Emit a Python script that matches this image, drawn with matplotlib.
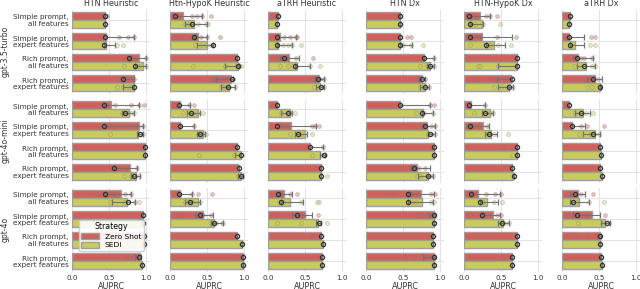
import matplotlib
matplotlib.use("Agg")
import matplotlib.pyplot as plt
from matplotlib.patches import Patch

tasks = ["HTN Heuristic", "Htn-HypoK Heuristic", "aTRH Heuristic",
         "HTN Dx", "HTN-HypoK Dx", "aTRH Dx"]
models = ["gpt-3.5-turbo", "gpt-4o-mini", "gpt-4o"]
prompts = ["Simple prompt,\nall features", "Simple prompt,\nexpert features",
           "Rich prompt,\nall features", "Rich prompt,\nexpert features"]
strategies = ["Zero Shot", "SEDI"]

# values per model -> task -> 8 bars (prompt order, Zero Shot then SEDI)
bar_auprc = [
    [[0.45, 0.44, 0.46, 0.46, 0.90, 0.955, 0.84, 0.84],
     [0.18, 0.32, 0.38, 0.50, 0.90, 0.92, 0.82, 0.79],
     [0.13, 0.12, 0.16, 0.14, 0.28, 0.39, 0.68, 0.70],
     [0.46, 0.46, 0.46, 0.46, 0.78, 0.86, 0.75, 0.80],
     [0.21, 0.24, 0.24, 0.41, 0.71, 0.71, 0.63, 0.61],
     [0.11, 0.10, 0.09, 0.18, 0.21, 0.32, 0.45, 0.51]],
    [[0.53, 0.77, 0.90, 0.89, 0.98, 0.98, 0.78, 0.86],
     [0.14, 0.38, 0.14, 0.45, 0.90, 0.95, 0.92, 0.95],
     [0.12, 0.29, 0.31, 0.50, 0.57, 0.70, 0.72, 0.71],
     [0.46, 0.77, 0.82, 0.84, 0.91, 0.91, 0.69, 0.83],
     [0.10, 0.35, 0.26, 0.36, 0.71, 0.72, 0.64, 0.66],
     [0.095, 0.28, 0.14, 0.45, 0.51, 0.53, 0.51, 0.54]],
    [[0.66, 0.74, 0.955, 0.96, 0.97, 0.975, 0.91, 0.94],
     [0.14, 0.38, 0.44, 0.59, 0.90, 0.97, 0.98, 0.98],
     [0.22, 0.30, 0.50, 0.67, 0.72, 0.74, 0.73, 0.73],
     [0.74, 0.76, 0.91, 0.92, 0.90, 0.90, 0.91, 0.92],
     [0.19, 0.31, 0.39, 0.52, 0.71, 0.71, 0.64, 0.64],
     [0.21, 0.23, 0.41, 0.58, 0.51, 0.51, 0.52, 0.54]],
]

point_auprc = [
    [[0.44, 0.44, 0.44, 0.43, 0.77, 0.85, 0.68, 0.84],
     [0.07, 0.29, 0.32, 0.58, 0.90, 0.92, 0.83, 0.78],
     [0.13, 0.12, 0.12, 0.12, 0.21, 0.37, 0.67, 0.72],
     [0.46, 0.46, 0.46, 0.46, 0.78, 0.86, 0.76, 0.80],
     [0.07, 0.08, 0.08, 0.30, 0.71, 0.71, 0.64, 0.60],
     [0.11, 0.10, 0.10, 0.11, 0.20, 0.29, 0.42, 0.51]],
    [[0.43, 0.72, 0.43, 0.91, 0.98, 0.98, 0.56, 0.84],
     [0.12, 0.28, 0.13, 0.41, 0.90, 0.95, 0.93, 0.95],
     [0.12, 0.27, 0.12, 0.41, 0.57, 0.75, 0.72, 0.72],
     [0.46, 0.76, 0.80, 0.86, 0.91, 0.91, 0.65, 0.84],
     [0.07, 0.28, 0.08, 0.33, 0.71, 0.72, 0.64, 0.67],
     [0.095, 0.25, 0.14, 0.42, 0.51, 0.53, 0.51, 0.54]],
    [[0.44, 0.75, 0.955, 0.96, 0.97, 0.975, 0.90, 0.94],
     [0.12, 0.27, 0.40, 0.59, 0.90, 0.97, 0.98, 0.98],
     [0.14, 0.18, 0.39, 0.68, 0.72, 0.74, 0.73, 0.73],
     [0.57, 0.57, 0.91, 0.92, 0.90, 0.90, 0.91, 0.92],
     [0.09, 0.22, 0.24, 0.51, 0.71, 0.71, 0.64, 0.64],
     [0.17, 0.15, 0.20, 0.60, 0.51, 0.51, 0.52, 0.54]],
]

err_lo = [
    [[0.44, 0.44, 0.44, 0.43, 0.77, 0.85, 0.68, 0.68],
     [0.07, 0.20, 0.32, 0.37, 0.90, 0.74, 0.62, 0.68],
     [0.13, 0.12, 0.12, 0.12, 0.16, 0.37, 0.63, 0.65],
     [0.46, 0.46, 0.46, 0.46, 0.78, 0.82, 0.72, 0.73],
     [0.07, 0.08, 0.08, 0.30, 0.71, 0.46, 0.44, 0.46],
     [0.11, 0.10, 0.10, 0.11, 0.15, 0.20, 0.33, 0.51]],
    [[0.43, 0.67, 0.43, 0.87, 0.98, 0.98, 0.56, 0.80],
     [0.12, 0.23, 0.13, 0.36, 0.90, 0.87, 0.93, 0.92],
     [0.12, 0.18, 0.12, 0.36, 0.57, 0.70, 0.72, 0.72],
     [0.46, 0.76, 0.76, 0.84, 0.91, 0.91, 0.60, 0.70],
     [0.07, 0.24, 0.08, 0.28, 0.71, 0.72, 0.64, 0.67],
     [0.095, 0.17, 0.14, 0.28, 0.51, 0.53, 0.51, 0.54]],
    [[0.44, 0.54, 0.955, 0.96, 0.97, 0.975, 0.85, 0.94],
     [0.12, 0.20, 0.34, 0.55, 0.90, 0.97, 0.98, 0.98],
     [0.14, 0.18, 0.32, 0.64, 0.72, 0.74, 0.73, 0.73],
     [0.57, 0.57, 0.85, 0.92, 0.90, 0.90, 0.77, 0.92],
     [0.09, 0.22, 0.24, 0.46, 0.71, 0.71, 0.64, 0.64],
     [0.11, 0.11, 0.15, 0.53, 0.47, 0.51, 0.52, 0.54]],
]

err_hi = [
    [[0.45, 0.44, 0.83, 0.58, 1.00, 1.00, 0.84, 0.84],
     [0.43, 0.50, 0.50, 0.58, 0.90, 0.93, 0.85, 0.88],
     [0.13, 0.12, 0.38, 0.32, 0.42, 0.57, 0.75, 0.75],
     [0.46, 0.46, 0.46, 0.62, 0.92, 0.92, 0.80, 0.85],
     [0.35, 0.26, 0.64, 0.55, 0.71, 0.71, 0.64, 0.66],
     [0.11, 0.10, 0.29, 0.29, 0.42, 0.44, 0.54, 0.53]],
    [[0.90, 0.83, 0.96, 0.96, 0.98, 0.98, 0.88, 0.92],
     [0.27, 0.41, 0.32, 0.47, 0.90, 0.96, 0.93, 0.98],
     [0.12, 0.32, 0.65, 0.52, 0.74, 0.77, 0.72, 0.72],
     [0.86, 0.90, 0.93, 0.93, 0.91, 0.91, 0.86, 0.90],
     [0.28, 0.39, 0.33, 0.44, 0.71, 0.72, 0.64, 0.67],
     [0.095, 0.38, 0.31, 0.51, 0.51, 0.53, 0.51, 0.54]],
    [[0.80, 0.85, 0.955, 0.96, 0.97, 0.975, 0.93, 0.94],
     [0.29, 0.41, 0.58, 0.72, 0.90, 0.97, 0.98, 0.98],
     [0.32, 0.47, 0.59, 0.72, 0.72, 0.74, 0.73, 0.73],
     [0.92, 0.90, 0.93, 0.92, 0.90, 0.90, 0.93, 0.92],
     [0.49, 0.46, 0.49, 0.60, 0.71, 0.71, 0.64, 0.64],
     [0.31, 0.36, 0.51, 0.64, 0.52, 0.51, 0.52, 0.54]],
]

# individual runs (scattered hollow points)
run_auprc = [
    [[[0.47], [], [0.63, 0.76, 0.84], [0.60, 0.69], [0.77, 1.0], [0.70, 0.90, 1.0], [0.68, 0.84], [0.60, 0.68, 0.75, 0.80]],
     [[0.07, 0.30, 0.36, 0.43, 0.55], [0.20, 0.25, 0.30, 0.38, 0.48, 0.51], [0.08, 0.15, 0.32, 0.42, 0.50, 0.67],
      [0.33, 0.42, 0.48, 0.55, 0.58], [], [0.31, 0.74, 0.90, 0.93, 0.95], [0.58, 0.62, 0.68, 0.75, 0.85], [0.68, 0.72, 0.76, 0.80, 0.88]],
     [[], [], [0.12, 0.22, 0.29, 0.38, 0.39], [0.12, 0.20, 0.27, 0.32, 0.44], [0.12, 0.20, 0.23, 0.38, 0.61],
      [0.16, 0.27, 0.34, 0.57, 0.70], [0.59, 0.65, 0.70, 0.75], [0.62, 0.68, 0.72, 0.75]],
     [[], [], [0.55, 0.60], [0.50, 0.60, 0.77], [0.92], [0.73, 0.82, 0.92], [0.72, 0.80], [0.73, 0.78, 0.85]],
     [[0.07, 0.30, 0.35, 0.44], [0.15, 0.26, 0.48], [0.08, 0.22, 0.44, 0.70], [0.08, 0.35, 0.46, 0.63], [],
      [0.19, 0.21, 0.46], [0.13, 0.35, 0.44], [0.40, 0.50, 0.58, 0.66]],
     [[], [], [0.39, 0.45], [0.38, 0.45], [0.18, 0.25, 0.30, 0.40], [0.16, 0.40, 0.44], [0.33, 0.40, 0.48], [0.33, 0.40, 0.50]]],
    [[[0.58, 0.80, 0.90, 0.97], [0.67, 0.74, 0.80, 0.83], [0.88, 0.96], [0.51, 0.90, 0.95], [], [], [0.73, 0.88], [0.70, 0.80, 0.90]],
     [[0.25, 0.32], [0.18, 0.30, 0.36, 0.44], [0.32], [0.38, 0.42, 0.46, 0.48], [], [0.39, 0.86], [], [0.92, 0.97]],
     [[], [0.18, 0.30, 0.37], [0.17, 0.59, 0.63, 0.69], [0.30, 0.40, 0.45, 0.59], [0.74], [0.59, 0.73, 0.77], [], [0.80]],
     [[0.86, 0.91], [0.67, 0.78, 0.90], [0.78, 0.88, 0.93], [0.84, 0.88, 0.93], [], [], [0.62, 0.66, 0.72, 0.80], [0.68, 0.73, 0.86, 0.90]],
     [[0.28], [0.13, 0.35, 0.39], [0.31], [0.35, 0.40, 0.59], [0.53], [0.64], [], []],
     [[], [0.17, 0.32, 0.42], [0.26, 0.33, 0.57], [0.23, 0.38, 0.50], [], [], [], []]],
    [[[0.33, 0.55, 0.72, 0.80], [0.51, 0.70, 0.85, 0.90], [0.74], [], [], [], [0.73, 0.77, 0.83], []],
     [[0.30, 0.38, 0.56], [0.20, 0.25, 0.30, 0.40], [0.13, 0.36, 0.45, 0.55], [0.55, 0.62, 0.70, 0.72], [], [0.95], [0.87], []],
     [[0.12, 0.17, 0.30, 0.39], [0.15, 0.20, 0.44, 0.66, 0.68], [0.12, 0.26, 0.48, 0.67], [0.12, 0.45, 0.70, 0.79], [0.59], [], [], []],
     [[0.37, 0.56, 0.60, 0.88, 0.93], [0.57, 0.62, 0.67, 0.88, 0.92], [0.69, 0.75, 0.85], [], [], [], [0.53, 0.65, 0.80], []],
     [[0.30, 0.42, 0.50], [0.25, 0.41, 0.51], [0.08, 0.44, 0.50], [0.50, 0.55, 0.60], [], [], [0.53], []],
     [[0.13, 0.25, 0.42], [0.13, 0.20, 0.36, 0.57], [0.08, 0.34, 0.58], [0.22, 0.55, 0.63], [0.22, 0.33], [], [], []]],
]

colors = ["#d0605b", "#c8cc5a"]
TXT = "#333333"

plt.rcParams["font.family"] = "DejaVu Sans"
fig = plt.figure(figsize=(6.4, 2.89), dpi=100)

W, H = 640.0, 289.0
for r, model in enumerate(models):
    for c, task in enumerate(tasks):
        left = (72 + 98 * c) / W
        top = 9.5 + 89 * r
        ax = fig.add_axes([left, 1 - (top + 84) / H, 78 / W, 84 / H])
        for k in range(8):
            p, s = divmod(k, 2)
            y = p + (s - 0.5) * 0.4
            ax.barh(y, bar_auprc[r][c][k], height=0.4, color=colors[s],
                    edgecolor="0.62", linewidth=1.0, zorder=2)
            runs = run_auprc[r][c][k]
            ax.plot(runs, [y] * len(runs), "o", ms=2.8, mfc=colors[s], mec="0.45",
                    mew=0.5, alpha=0.4, zorder=3)
            m = point_auprc[r][c][k]
            ax.errorbar(m, y, xerr=[[m - err_lo[r][c][k]], [err_hi[r][c][k] - m]],
                        fmt="o", ms=3.0, mfc="none", mec="0.2", mew=0.9,
                        ecolor="0.45", elinewidth=0.8, capsize=2, capthick=0.8, zorder=4)
        ax.set_xlim(0, 1.05)
        ax.set_ylim(3.5, -0.5)
        ax.set_xticks([0, 0.5, 1.0])
        ax.set_yticks(range(4))
        ax.grid(True, color="#e3e3e3", linewidth=0.8, zorder=0)
        ax.set_axisbelow(True)
        for sp in ax.spines.values():
            sp.set_visible(False)
        ax.tick_params(length=0, labelsize=5.2, pad=2.5, colors=TXT)
        if c == 0:
            ax.set_yticklabels(prompts, fontsize=5.2, color=TXT, linespacing=1.15)
            ax.set_ylabel(model, fontsize=5.5, color=TXT, labelpad=2)
        else:
            ax.set_yticklabels([])
        if r == 2:
            ax.set_xticklabels(["0.0", "0.5", "1.0"])
            ax.set_xlabel("AUPRC", fontsize=5.8, color=TXT, labelpad=1)
        else:
            ax.set_xticklabels([])
        if r == 0:
            ax.set_title(task, fontsize=5.8, color=TXT, pad=2.5)
        if r == 2 and c == 0:
            handles = [Patch(facecolor=colors[i], edgecolor="0.62", label=strategies[i]) for i in range(2)]
            leg = ax.legend(handles=handles, title="Strategy", loc="lower left",
                            bbox_to_anchor=(0.04, 0.2), fontsize=5.4, title_fontsize=5.6,
                            frameon=True, framealpha=0.9, edgecolor="#cccccc",
                            handlelength=2.3, handleheight=0.9, borderpad=0.35,
                            labelspacing=0.25)
            leg.set_zorder(10)

fig.savefig("out.png", dpi=100)
